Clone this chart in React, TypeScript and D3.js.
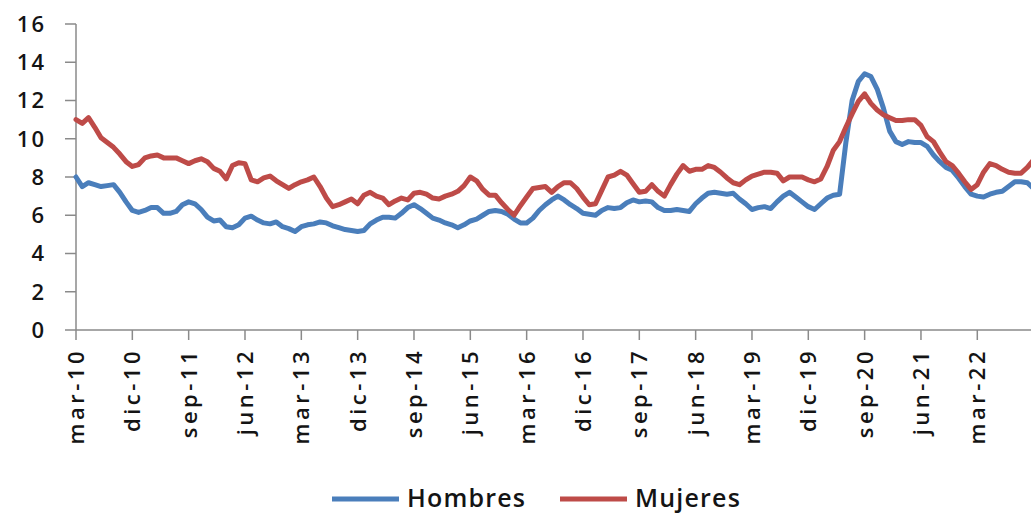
import React from 'react';
import * as d3 from 'd3';

// monthly series, starting mar-10
const hombres = [
  8.0, 7.5, 7.7, 7.6, 7.5, 7.55, 7.6, 7.2, 6.7, 6.25,
  6.15, 6.25, 6.4, 6.4, 6.1, 6.1, 6.2, 6.55, 6.7, 6.6,
  6.3, 5.9, 5.7, 5.75, 5.4, 5.35, 5.5, 5.85, 5.95, 5.75,
  5.6, 5.55, 5.65, 5.4, 5.3, 5.15, 5.4, 5.5, 5.55, 5.65,
  5.6, 5.45, 5.35, 5.25, 5.2, 5.15, 5.2, 5.55, 5.75, 5.9,
  5.9, 5.85, 6.1, 6.4, 6.55, 6.35, 6.1, 5.85, 5.75, 5.6,
  5.5, 5.35, 5.5, 5.7, 5.8, 6.0, 6.2, 6.25, 6.2, 6.05,
  5.8, 5.6, 5.6, 5.85, 6.25, 6.55, 6.8, 7.0, 6.8, 6.55,
  6.35, 6.1, 6.05, 6.0, 6.25, 6.4, 6.35, 6.4, 6.65, 6.8,
  6.7, 6.75, 6.7, 6.4, 6.25, 6.25, 6.3, 6.25, 6.2, 6.6,
  6.9, 7.15, 7.2, 7.15, 7.1, 7.15, 6.85, 6.6, 6.3, 6.4,
  6.45, 6.35, 6.7, 7.0, 7.2, 6.95, 6.7, 6.45, 6.3, 6.6,
  6.9, 7.05, 7.1, 9.8, 12.0, 13.0, 13.4, 13.25, 12.6, 11.6,
  10.4, 9.85, 9.7, 9.85, 9.8, 9.8, 9.6, 9.15, 8.8, 8.5,
  8.35, 7.95, 7.5, 7.1, 7.0, 6.95, 7.1, 7.2, 7.25, 7.5,
  7.75, 7.75, 7.7, 7.4,
];

const mujeres = [
  11.0, 10.8, 11.1, 10.6, 10.05, 9.8, 9.55, 9.2, 8.8, 8.55,
  8.65, 9.0, 9.1, 9.15, 9.0, 9.0, 9.0, 8.85, 8.7, 8.85,
  8.95, 8.8, 8.45, 8.3, 7.9, 8.6, 8.75, 8.7, 7.85, 7.75,
  7.95, 8.05, 7.8, 7.6, 7.4, 7.6, 7.75, 7.85, 8.0, 7.5,
  6.9, 6.45, 6.55, 6.7, 6.85, 6.6, 7.05, 7.2, 7.0, 6.9,
  6.55, 6.75, 6.9, 6.8, 7.15, 7.2, 7.1, 6.9, 6.85, 7.0,
  7.1, 7.25, 7.55, 8.0, 7.8, 7.35, 7.05, 7.05, 6.65, 6.3,
  6.0, 6.5, 6.95, 7.4, 7.45, 7.5, 7.2, 7.5, 7.7, 7.7,
  7.4, 6.95, 6.55, 6.6, 7.3, 8.0, 8.1, 8.3, 8.1, 7.65,
  7.2, 7.25, 7.6, 7.25, 7.0, 7.6, 8.15, 8.6, 8.3, 8.4,
  8.4, 8.6, 8.5, 8.25, 7.95, 7.7, 7.6, 7.85, 8.05, 8.15,
  8.25, 8.25, 8.2, 7.8, 8.0, 8.0, 8.0, 7.85, 7.75, 7.9,
  8.55, 9.4, 9.85, 10.6, 11.3, 11.95, 12.35, 11.85, 11.5, 11.25,
  11.1, 10.95, 10.95, 11.0, 11.0, 10.7, 10.1, 9.85, 9.3, 8.8,
  8.6, 8.2, 7.75, 7.35, 7.6, 8.25, 8.7, 8.6, 8.4, 8.25,
  8.2, 8.2, 8.5, 8.9,
];

const tickLabels = [
  'mar-10', 'dic-10', 'sep-11', 'jun-12', 'mar-13', 'dic-13', 'sep-14', 'jun-15', 'mar-16',
  'dic-16', 'sep-17', 'jun-18', 'mar-19', 'dic-19', 'sep-20', 'jun-21', 'mar-22',
];
const tickStep = 9; // months between labels
const yTicks = [0, 2, 4, 6, 8, 10, 12, 14, 16];

const series = [
  { name: 'Hombres', values: hombres, color: '#4a7ebb' },
  { name: 'Mujeres', values: mujeres, color: '#be4b48' },
];

const W = 1031;
const H = 515;
const FONT = '"Open Sans", sans-serif';
const TEXT = '#141414';

const App = () => {
  const lastTick = (tickLabels.length - 1) * tickStep;
  const x = d3.scaleLinear().domain([0, lastTick]).range([76, 977.3]);
  const y = d3.scaleLinear().domain([0, 16]).range([330, 24]);

  const line = d3.line<number>()
    .x((_, i) => x(i))
    .y(d => y(d));

  const axisColor = '#8a8a8a';

  return (
    <svg width={W} height={H} style={{ position: 'absolute', left: 0, top: 0, background: 'white' }}>
      {/* y axis */}
      <line x1={x(0)} x2={x(0)} y1={y(16)} y2={y(0)} stroke={axisColor} strokeWidth={1.5} />
      {yTicks.map(t => (
        <g key={t}>
          <line x1={65} x2={x(0)} y1={y(t)} y2={y(t)} stroke={axisColor} strokeWidth={1.5} />
          <text x={46} y={y(t)} dy="0.36em" textAnchor="end" fontFamily={FONT} fontSize={22}
            fontWeight={600} letterSpacing={2} fill={TEXT}>{t}</text>
        </g>
      ))}

      {/* x axis */}
      <line x1={x(0)} x2={W} y1={y(0)} y2={y(0)} stroke={axisColor} strokeWidth={1.5} />
      {tickLabels.map((lab, i) => {
        const px = x(i * tickStep);
        return (
          <g key={lab}>
            <line x1={px} x2={px} y1={y(0)} y2={y(0) + 10} stroke={axisColor} strokeWidth={1.5} />
            <text transform={`translate(${px},348) rotate(-90)`} dy="0.36em" textAnchor="end"
              fontFamily={FONT} fontSize={22} fontWeight={600} letterSpacing={3.5} fill={TEXT}>{lab}</text>
          </g>
        );
      })}

      {/* lines */}
      {series.map(s => (
        <path key={s.name} d={line(s.values) ?? ''} fill="none" stroke={s.color}
          strokeWidth={5} strokeLinejoin="round" strokeLinecap="round" />
      ))}

      {/* legend */}
      {series.map((s, i) => {
        const lx = i === 0 ? 332 : 560;
        return (
          <g key={s.name}>
            <line x1={lx} x2={lx + 67} y1={499} y2={499} stroke={s.color} strokeWidth={5} />
            <text x={lx + 75} y={507} fontFamily={FONT} fontSize={25}
              fontWeight={600} letterSpacing={1.2} fill={TEXT}>{s.name}</text>
          </g>
        );
      })}
    </svg>
  );
};

export default App;
